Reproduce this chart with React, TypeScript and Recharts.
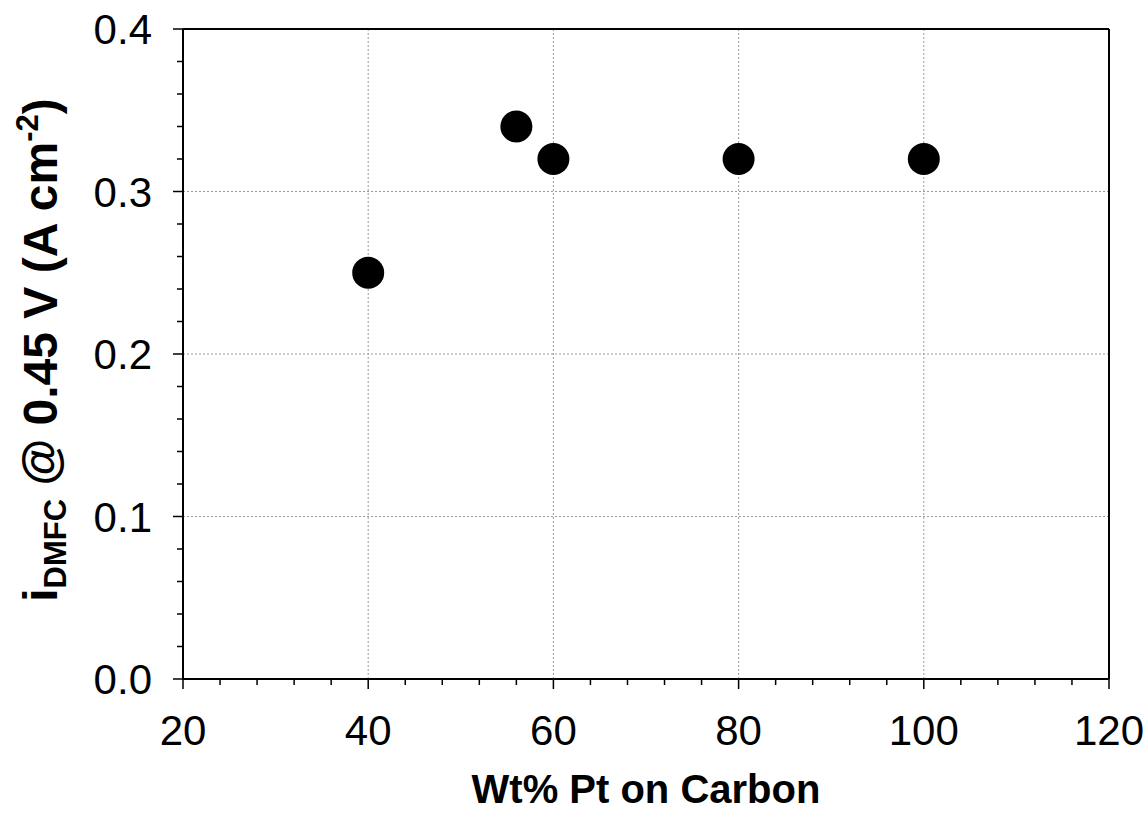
import React from 'react';
import { ScatterChart, Scatter, XAxis, YAxis, ReferenceLine } from 'recharts';

// Wt% Pt on carbon vs DMFC current density at 0.45 V
const wtPct = [40, 56, 60, 80, 100];
const currentDensity = [0.25, 0.34, 0.32, 0.32, 0.32];

const xTicks = [20, 24, 28, 32, 36, 40, 44, 48, 52, 56, 60, 64, 68, 72, 76, 80, 84, 88, 92, 96, 100, 104, 108, 112, 116, 120];
const yTicks = [0, 0.02, 0.04, 0.06, 0.08, 0.1, 0.12, 0.14, 0.16, 0.18, 0.2, 0.22, 0.24, 0.26, 0.28, 0.3, 0.32, 0.34, 0.36, 0.38, 0.4];
const xGrid = [40, 60, 80, 100];
const yGrid = [0.1, 0.2, 0.3];

const data = wtPct.map((x, i) => ({ x, y: currentDensity[i] }));

const FONT = '"Liberation Sans", Arial, sans-serif';

const XTick = (props: any) => {
  const { x, y, payload } = props;
  const major = payload.value % 20 === 0;
  return (
    <g>
      <line x1={x} x2={x} y1={y} y2={y + (major ? 10 : 6)} stroke="#000" strokeWidth={1.5} />
      {major && (
        <text x={x} y={y + 66} textAnchor="middle" fontSize={42} fontFamily={FONT} fill="#000">
          {payload.value}
        </text>
      )}
    </g>
  );
};

const YTick = (props: any) => {
  const { x, y, payload } = props;
  const v = payload.value;
  const major = Math.abs(v * 10 - Math.round(v * 10)) < 1e-6;
  return (
    <g>
      <line x1={x - (major ? 10 : 6)} x2={x} y1={y} y2={y} stroke="#000" strokeWidth={1.5} />
      {major && (
        <text x={x - 31} y={y + 15} textAnchor="end" fontSize={42} fontFamily={FONT} fill="#000">
          {v.toFixed(1)}
        </text>
      )}
    </g>
  );
};

const YTitle = (props: any) => {
  const vb = props.viewBox;
  const cx = 40;
  const cy = vb.y + vb.height / 2 - 4;
  return (
    <text
      x={cx}
      y={cy + 17}
      transform={`rotate(-90, ${cx}, ${cy})`}
      textAnchor="middle"
      fontSize={48}
      fontWeight="bold"
      fontFamily={FONT}
      fill="#000"
    >
      <tspan>i</tspan>
      <tspan fontSize={31} dy={9}>DMFC</tspan>
      <tspan dy={-9}> @ 0.45 V (A cm</tspan>
      <tspan fontSize={31} dy={-19}>-2</tspan>
      <tspan dy={19}>)</tspan>
    </text>
  );
};

const XTitle = (props: any) => {
  const vb = props.viewBox;
  return (
    <text
      x={vb.x + vb.width / 2}
      y={vb.y + 124}
      textAnchor="middle"
      fontSize={40}
      fontWeight="bold"
      fontFamily={FONT}
      fill="#000"
    >
      Wt% Pt on Carbon
    </text>
  );
};

export default function App() {
  return (
    <div style={{ position: 'absolute', left: 0, top: 0, background: '#fff' }}>
      <ScatterChart width={1148} height={823} margin={{ top: 29, right: 39, left: 0, bottom: 0 }}>
        {xGrid.map((v) => (
          <ReferenceLine key={`gx-${v}`} x={v} stroke="#999" strokeDasharray="2 2" strokeWidth={1} />
        ))}
        {yGrid.map((v) => (
          <ReferenceLine key={`gy-${v}`} y={v} stroke="#999" strokeDasharray="2 2" strokeWidth={1} />
        ))}
        <ReferenceLine y={0.4} stroke="#000" strokeWidth={2} />
        <ReferenceLine x={120} stroke="#000" strokeWidth={2} />
        <XAxis
          type="number"
          dataKey="x"
          domain={[20, 120]}
          ticks={xTicks}
          interval={0}
          tickSize={0}
          tickMargin={0}
          tick={<XTick />}
          axisLine={{ stroke: '#000', strokeWidth: 2 }}
          height={144}
          label={{ content: <XTitle /> }}
        />
        <YAxis
          type="number"
          dataKey="y"
          domain={[0, 0.4]}
          ticks={yTicks}
          interval={0}
          tickSize={0}
          tickMargin={0}
          tick={<YTick />}
          axisLine={{ stroke: '#000', strokeWidth: 2 }}
          width={183}
          label={{ content: <YTitle /> }}
        />
        <Scatter
          data={data}
          isAnimationActive={false}
          shape={(p: any) => <circle cx={p.cx} cy={p.cy} r={16} fill="#000" />}
        />
      </ScatterChart>
    </div>
  );
}
